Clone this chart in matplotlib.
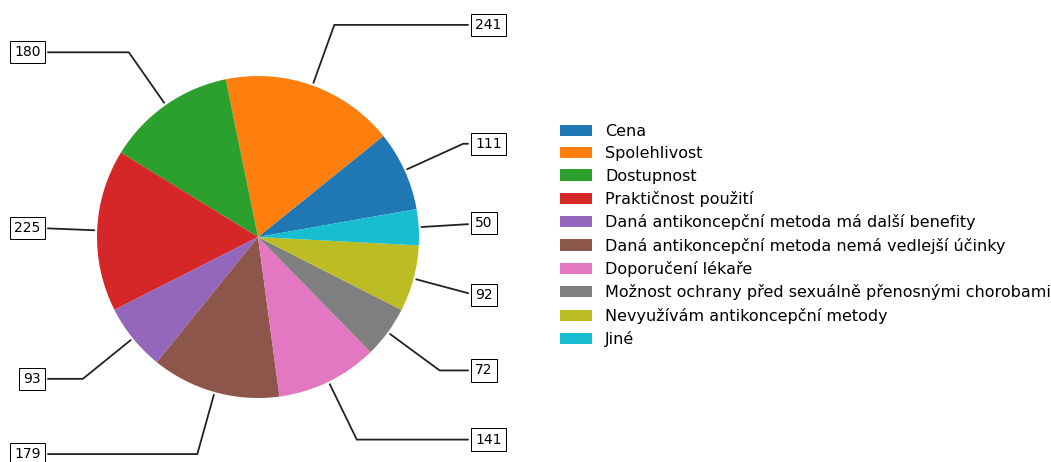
import matplotlib
matplotlib.use("Agg")
import matplotlib.pyplot as plt
import numpy as np

labels = [
    "Cena",
    "Spolehlivost",
    "Dostupnost",
    "Praktičnost použití",
    "Daná antikoncepční metoda má další benefity",
    "Daná antikoncepční metoda nemá vedlejší účinky",
    "Doporučení lékaře",
    "Možnost ochrany před sexuálně přenosnými chorobami",
    "Nevyužívám antikoncepční metody",
    "Jiné",
]
counts = [111, 241, 180, 225, 93, 179, 141, 72, 92, 50]

W, H = 1051, 462
cx, cy, r = 258, 237, 161
lim = 1.4

fig = plt.figure(figsize=(W / 100, H / 100), dpi=100)
ax = fig.add_axes([(cx - lim * r) / W, (H - cy - lim * r) / H, 2 * lim * r / W, 2 * lim * r / H])

wedges, _ = ax.pie(counts, startangle=10)
ax.set_xlim(-lim, lim)
ax.set_ylim(-lim, lim)
ax.set_aspect("equal")
ax.axis("off")

bbox_props = dict(boxstyle="square,pad=0.3", fc="w", ec="k", lw=0.72)
kw = dict(arrowprops=dict(arrowstyle="-", color="#222222", lw=1.3), bbox=bbox_props, zorder=0, va="center")

for i, p in enumerate(wedges):
    ang = (p.theta2 - p.theta1) / 2.0 + p.theta1
    y = np.sin(np.deg2rad(ang))
    x = np.cos(np.deg2rad(ang))
    ha = {-1: "right", 1: "left"}[int(np.sign(x))]
    conn = f"angle,angleA=0,angleB={ang}"
    kw["arrowprops"].update({"connectionstyle": conn})
    ax.annotate(str(counts[i]), xy=(x, y), xytext=(1.35 * np.sign(x), 1.4 * y),
                horizontalalignment=ha, fontsize=10, **kw)

fig.legend(wedges, labels, loc="center left", bbox_to_anchor=(546 / W, 1 - 235.5 / H),
           frameon=False, fontsize=11.5, labelspacing=0.46)

fig.savefig("out.png", dpi=100)
